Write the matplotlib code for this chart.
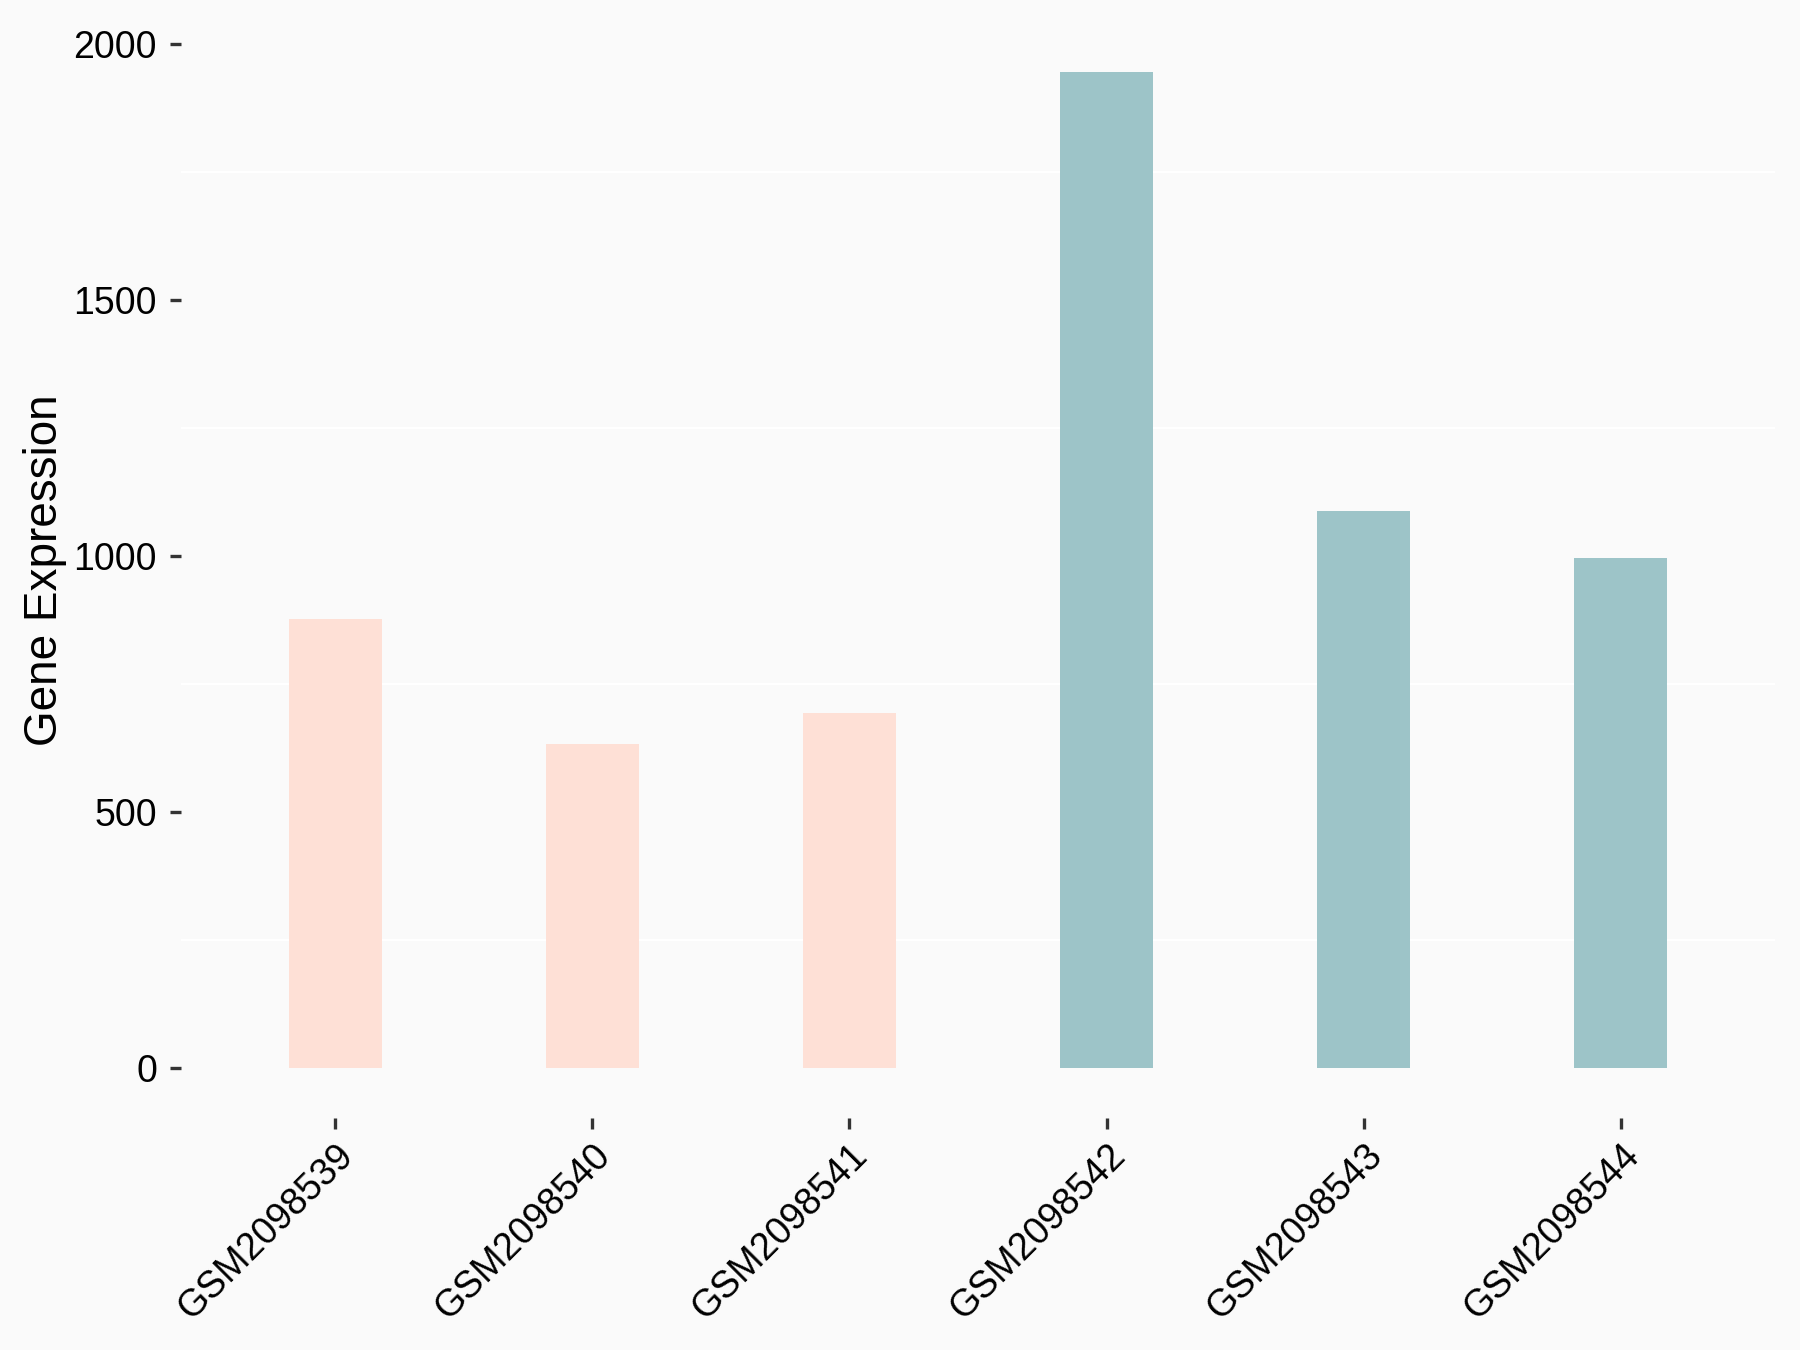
import matplotlib
matplotlib.use("Agg")
import matplotlib.pyplot as plt
import numpy as np

samples = ["GSM2098539", "GSM2098540", "GSM2098541",
           "GSM2098542", "GSM2098543", "GSM2098544"]
expression = [876, 632, 693, 1945, 1087, 995]
groups = ["A", "A", "A", "B", "B", "B"]
group_colors = {"A": "#FEE0D6", "B": "#9DC4C8"}

plt.rcParams["font.family"] = ["Liberation Sans", "DejaVu Sans"]

fig = plt.figure(figsize=(12, 9), dpi=150, facecolor="#FAFAFA")
ax = fig.add_axes([0.1006, 0.1722, 0.8855, 0.8115])
ax.set_facecolor("#FAFAFA")

x = np.arange(len(samples))
ax.bar(x, expression, width=0.36, color=[group_colors[g] for g in groups], zorder=2)

ymax = max(expression)
ax.set_xlim(-0.6, len(samples) - 0.4)
ax.set_ylim(-0.05 * ymax, 1.05 * ymax)

ax.set_yticks([0, 500, 1000, 1500, 2000])
ax.set_yticks([250, 750, 1250, 1750], minor=True)
ax.grid(which="minor", axis="y", color="white", linewidth=1.0, zorder=1)
ax.grid(which="major", visible=False)

ax.set_xticks(x)
ax.set_xticklabels(samples, rotation=45, ha="right", va="top",
                   rotation_mode="anchor")

ax.tick_params(axis="both", which="major", labelsize=18, color="#333333",
               length=5.5, width=1.6, pad=6, labelcolor="black")
ax.tick_params(axis="x", which="major", pad=4)
ax.tick_params(axis="y", which="minor", length=0)

for s in ax.spines.values():
    s.set_visible(False)

ax.set_ylabel("Gene Expression", fontsize=22, labelpad=3)

fig.savefig("out.png", dpi=150, facecolor=fig.get_facecolor())
